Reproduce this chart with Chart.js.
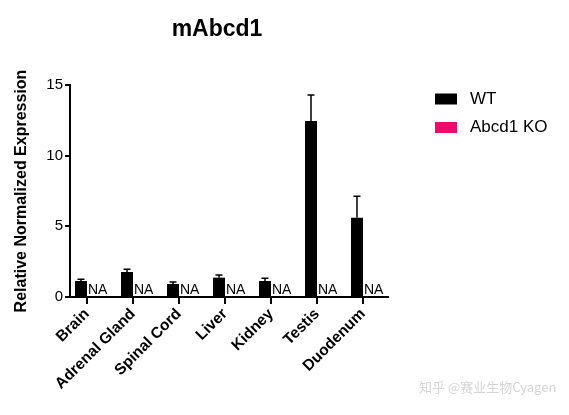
<!DOCTYPE html>
<html>
<head>
<meta charset="utf-8">
<script src="https://cdn.jsdelivr.net/npm/chart.js@4/dist/chart.umd.min.js"></script>
<style>
html,body{margin:0;padding:0;background:#fff;}
#wrap{width:569px;height:415px;position:relative;}
</style>
</head>
<body>
<div id="wrap"><canvas id="c" width="569" height="415"></canvas></div>
<script>
const categories = ["Brain", "Adrenal Gland", "Spinal Cord", "Liver", "Kidney", "Testis", "Duodenum"];
const wtValues = [1.13, 1.77, 0.92, 1.37, 1.13, 12.46, 5.61];
const wtErrors = [0.12, 0.19, 0.14, 0.19, 0.19, 1.84, 1.52];
const koValues = [null, null, null, null, null, null, null];
const koLabelText = "NA";
const yTicks = [0, 5, 10, 15];
const chartTitle = "mAbcd1";
const yTitle = "Relative Normalized Expression";
const seriesNames = ["WT", "Abcd1 KO"];
const seriesColors = ["#000000", "#EE0A6A"];
const watermark = "知乎 @赛业生物Cyagen";

const FONT = "Liberation Sans, Arial, sans-serif";

const extras = {
  id: 'extras',
  afterDatasetsDraw(chart) {
    const ctx = chart.ctx;
    const y = chart.scales.y;
    const wt = chart.getDatasetMeta(0);
    const ko = chart.getDatasetMeta(1);
    ctx.save();
    ctx.strokeStyle = '#000';
    ctx.lineWidth = 1.5;
    wt.data.forEach((bar, i) => {
      const top = y.getPixelForValue(wtValues[i] + wtErrors[i]);
      ctx.beginPath();
      ctx.moveTo(bar.x, bar.y);
      ctx.lineTo(bar.x, top);
      ctx.moveTo(bar.x - 3.5, top);
      ctx.lineTo(bar.x + 3.5, top);
      ctx.stroke();
    });
    ctx.fillStyle = '#000';
    ctx.font = '14px ' + FONT;
    ctx.textAlign = 'left';
    ctx.textBaseline = 'alphabetic';
    ko.data.forEach((bar, i) => {
      if (koValues[i] !== null) return;
      let left = bar.x - bar.width / 2;
      if (!isFinite(left)) left = wt.data[i].x + wt.data[i].width / 2;
      ctx.fillText(koLabelText, left + 1, y.getPixelForValue(0) - 3);
    });
    ctx.restore();
  },
  afterDraw(chart) {
    const ctx = chart.ctx;
    ctx.save();
    ctx.fillStyle = '#000';
    ctx.font = 'bold 23px ' + FONT;
    ctx.textAlign = 'center';
    ctx.textBaseline = 'middle';
    ctx.fillText(chartTitle, 217, 30);
    ctx.font = '17px ' + FONT;
    ctx.textAlign = 'left';
    chart.data.datasets.forEach((ds, i) => {
      const cy = 99 + i * 28.5;
      ctx.fillStyle = ds.backgroundColor;
      ctx.fillRect(435, cy - 5.5, 22, 11);
      ctx.fillStyle = '#000';
      ctx.fillText(ds.label, 470, cy);
    });
    ctx.fillStyle = '#d4d4d4';
    ctx.font = '13px "Noto Sans CJK SC", sans-serif';
    ctx.fillText(watermark, 419, 387);
    ctx.restore();
  }
};

new Chart(document.getElementById('c'), {
  type: 'bar',
  data: {
    labels: categories,
    datasets: [
      { label: seriesNames[0], data: wtValues, backgroundColor: seriesColors[0], borderWidth: 0 },
      { label: seriesNames[1], data: koValues, backgroundColor: seriesColors[1], borderWidth: 0 }
    ]
  },
  options: {
    responsive: false,
    animation: false,
    devicePixelRatio: 1,
    layout: { padding: { left: 0, top: 85, right: 181, bottom: 0 } },
    plugins: { legend: { display: false }, title: { display: false }, tooltip: { enabled: false } },
    datasets: { bar: { categoryPercentage: 0.522, barPercentage: 1.0 } },
    scales: {
      x: {
        offset: true,
        grid: { display: true, drawOnChartArea: false, drawTicks: true, tickLength: 7, color: '#000', lineWidth: 2, offset: false },
        border: { display: true, color: '#000', width: 2 },
        ticks: { color: '#000', font: { family: FONT, size: 15.5, weight: 'bold' }, minRotation: 45, maxRotation: 45, padding: 1, autoSkip: false },
        afterBuildTicks(s) { s._startValue = -0.3696; s._valueRange = 6.913; },
        afterFit(s) { s.height = 118; }
      },
      y: {
        min: 0, max: 15,
        afterBuildTicks(s) { s.ticks = yTicks.map(v => ({ value: v })); },
        grid: { display: true, drawOnChartArea: false, drawTicks: true, tickLength: 5, color: '#000', lineWidth: 2 },
        border: { display: true, color: '#000', width: 2 },
        ticks: { color: '#000', font: { family: FONT, size: 15 }, padding: 2 },
        title: { display: true, text: yTitle, color: '#000', font: { family: FONT, size: 16, weight: 'bold' }, padding: { top: 12, bottom: 0 } },
        afterFit(s) { s.width = 70; }
      }
    }
  },
  plugins: [extras]
});
</script>
</body>
</html>
